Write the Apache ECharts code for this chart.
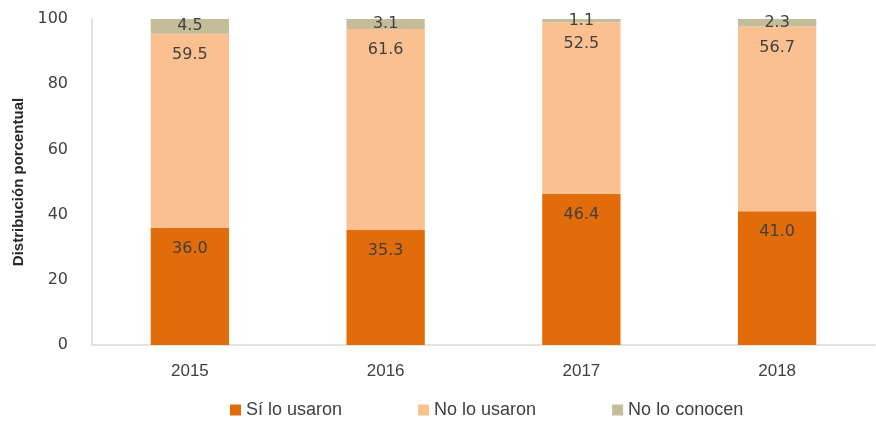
<!DOCTYPE html>
<html>
<head>
<meta charset="utf-8">
<script src="https://cdn.jsdelivr.net/npm/echarts@6/dist/echarts.min.js"></script>
<style>
  html, body { margin: 0; padding: 0; background: #fff; }
  #main { width: 876px; height: 425px; }
</style>
</head>
<body>
<div id="main"></div>
<script>
// datos
var years = ['2015', '2016', '2017', '2018'];
var siUsaron = [36.0, 35.3, 46.4, 41.0];
var noUsaron = [59.5, 61.6, 52.5, 56.7];
var noConocen = [4.5, 3.1, 1.1, 2.3];

var chart = echarts.init(document.getElementById('main'));
var labelStyle = {
    show: true,
    position: 'inside',
    color: '#404040',
    fontFamily: 'DejaVu Sans',
    fontSize: 16,
    formatter: function (p) { return p.value.toFixed(1); }
};
var topLabel = Object.assign({}, labelStyle, { position: 'insideTop', distance: 13 });
var option = {
    animation: false,
    grid: { left: 92, right: 1, top: 19, bottom: 80 },
    legend: {
        bottom: 1,
        left: 225,
        itemWidth: 11,
        itemHeight: 11,
        itemGap: 76,
        icon: 'rect',
        textStyle: { fontFamily: 'Liberation Sans Narrow, Liberation Sans', fontSize: 18, color: '#404040' },
        data: ['Sí lo usaron', 'No lo usaron', 'No lo conocen']
    },
    xAxis: {
        type: 'category',
        data: years,
        axisLine: { lineStyle: { color: '#d9d9d9', width: 1.5 } },
        axisTick: { show: false },
        axisLabel: { color: '#404040', fontFamily: 'Liberation Sans Narrow, Liberation Sans', fontSize: 17, margin: 18 }
    },
    yAxis: {
        type: 'value',
        min: 0,
        max: 100,
        interval: 20,
        name: 'Distribución porcentual',
        nameLocation: 'middle',
        nameGap: 64,
        nameTextStyle: { fontFamily: 'Liberation Sans Narrow, Liberation Sans', fontWeight: 'bold', fontSize: 15, color: '#262626' },
        axisLine: { show: true, lineStyle: { color: '#d9d9d9', width: 1.5 } },
        axisTick: { show: false },
        splitLine: { show: false },
        axisLabel: { color: '#404040', fontFamily: 'DejaVu Sans', fontSize: 16, margin: 24 }
    },
    series: [
        { name: 'Sí lo usaron', type: 'bar', stack: 'total', barWidth: '40%', data: siUsaron,
          itemStyle: { color: '#E36C0A' }, label: topLabel },
        { name: 'No lo usaron', type: 'bar', stack: 'total', data: noUsaron,
          itemStyle: { color: '#FAC090' }, label: topLabel },
        { name: 'No lo conocen', type: 'bar', stack: 'total', data: noConocen,
          itemStyle: { color: '#C4BD97' }, label: labelStyle }
    ]
};
chart.setOption(option);
</script>
</body>
</html>
